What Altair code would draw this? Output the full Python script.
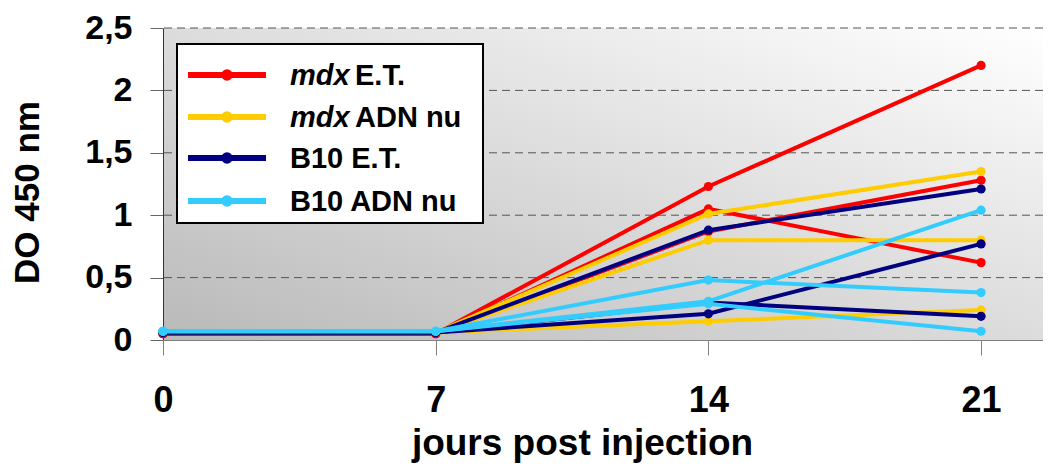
import altair as alt
import pandas as pd

# ---------------- data ----------------
days = [0, 7, 14, 21]
series_names = ["mdx E.T.", "mdx ADN nu", "B10 E.T.", "B10 ADN nu"]
series_colors = ["#ff0000", "#ffcc00", "#000080", "#33ccff"]

mdx_et = [[0.05, 0.05, 1.23, 2.20],
          [0.05, 0.05, 1.05, 0.62],
          [0.05, 0.05, 0.87, 1.28]]
mdx_adn = [[0.06, 0.06, 1.01, 1.35],
           [0.06, 0.06, 0.80, 0.80],
           [0.06, 0.06, 0.15, 0.24]]
b10_et = [[0.06, 0.06, 0.88, 1.21],
          [0.06, 0.06, 0.21, 0.77],
          [0.06, 0.06, 0.30, 0.19]]
b10_adn = [[0.07, 0.07, 0.48, 0.38],
           [0.07, 0.07, 0.31, 1.04],
           [0.07, 0.07, 0.29, 0.07]]
all_series = [mdx_et, mdx_adn, b10_et, b10_adn]

grid_values = [0.5, 1.0, 1.5, 2.0, 2.5]
y_ticks = [0, 0.5, 1, 1.5, 2, 2.5]
x_ticks = [0, 7, 14, 21]

# ---------------- layout ----------------
W, H = 880, 312
FONT = "Liberation Sans"


def long_df(name, reps):
    rows = []
    for r, vals in enumerate(reps):
        for d, v in zip(days, vals):
            rows.append({"series": name, "rep": r, "day": d, "do": v})
    return pd.DataFrame(rows)


x_enc = alt.X(
    "day:Q",
    scale=alt.Scale(domain=[0, 22.59], nice=False, zero=False),
    axis=alt.Axis(
        values=x_ticks, title="jours post injection",
        labelFont=FONT, labelFontSize=36, labelFontWeight="bold", labelColor="black",
        labelPadding=28, labelFlush=False, labelOverlap=False,
        tickSize=15, tickColor="#808080", domainColor="#808080", grid=False,
        titleFont=FONT, titleFontSize=37, titleFontWeight="bold", titleColor="black",
        titleX=419, titleY=114, titleAlign="center", titleBaseline="alphabetic",
        zindex=1,
    ),
)
y_enc = alt.Y(
    "do:Q",
    scale=alt.Scale(domain=[0, 2.5], nice=False, zero=True),
    axis=alt.Axis(
        values=y_ticks, format=".1~f", labelExpr="replace(datum.label, '.', ',')",
        labelFont=FONT, labelFontSize=34, labelFontWeight="bold", labelColor="black",
        labelPadding=18, labelFlush=False, labelOverlap=False,
        tickSize=13, tickColor="#666666", domainColor="#333333", grid=False,
        title="DO 450 nm", titleFont=FONT, titleFontSize=35, titleFontWeight="bold",
        titleColor="black", titleAngle=270, titleX=-136, titleY=164,
        titleAlign="center", titleBaseline="middle",
        zindex=0,
    ),
)

one = pd.DataFrame({"a": [0]})

background = alt.Chart(one).mark_rect(
    fill=alt.Gradient(
        gradient="linear",
        stops=[alt.GradientStop(color="#b9b9b9", offset=0),
               alt.GradientStop(color="#ffffff", offset=1)],
        x1=0, y1=1, x2=1, y2=0,
    )
).encode(x=alt.value(1), x2=alt.value(W), y=alt.value(0), y2=alt.value(H))

grid = alt.Chart(pd.DataFrame({"do": grid_values})).mark_rule(
    color="#555555", strokeDash=[8, 5], strokeWidth=1
).encode(y=y_enc)

series_layers = []
for name, reps, col in zip(series_names, all_series, series_colors):
    series_layers.append(
        alt.Chart(long_df(name, reps)).mark_line(
            color=col, strokeWidth=4,
            point=alt.OverlayMarkDef(filled=True, size=85, color=col, opacity=1),
        ).encode(x=x_enc, y=y_enc, detail="rep:N", order="day:Q")
    )

# ---------------- legend ----------------
legend_rows_y = [47, 89, 130, 173]
legend_layers = [
    alt.Chart(one).mark_rect(fill="white", stroke="black", strokeWidth=2).encode(
        x=alt.value(14), x2=alt.value(320), y=alt.value(16), y2=alt.value(195)
    )
]
italic_part = ["mdx", "mdx", "", ""]
plain_part = ["E.T.", "ADN nu", "B10 E.T.", "B10 ADN nu"]
for ry, col, it, pl in zip(legend_rows_y, series_colors, italic_part, plain_part):
    legend_layers.append(
        alt.Chart(one).mark_rule(color=col, strokeWidth=6).encode(
            x=alt.value(25), x2=alt.value(103), y=alt.value(ry)
        )
    )
    legend_layers.append(
        alt.Chart(one).mark_point(filled=True, size=133, color=col, opacity=1).encode(
            x=alt.value(64), y=alt.value(ry)
        )
    )
    if it:
        legend_layers.append(
            alt.Chart(one).mark_text(
                text=it, font=FONT, fontSize=29, fontWeight="bold", fontStyle="italic",
                align="left", baseline="middle", color="black",
            ).encode(x=alt.value(127), y=alt.value(ry + 1))
        )
        tx = 192
    else:
        tx = 127
    legend_layers.append(
        alt.Chart(one).mark_text(
            text=pl, font=FONT, fontSize=29, fontWeight="bold",
            align="left", baseline="middle", color="black",
        ).encode(x=alt.value(tx), y=alt.value(ry + 1))
    )

chart = alt.layer(background, grid, *series_layers, *legend_layers).properties(
    width=W, height=H,
    autosize=alt.AutoSizeParams(type="none"),
    padding={"left": 155, "top": 20, "right": 0, "bottom": 126},
).configure_view(stroke=None)

chart.save("out.html", embed_options={"renderer": "svg", "actions": False})
